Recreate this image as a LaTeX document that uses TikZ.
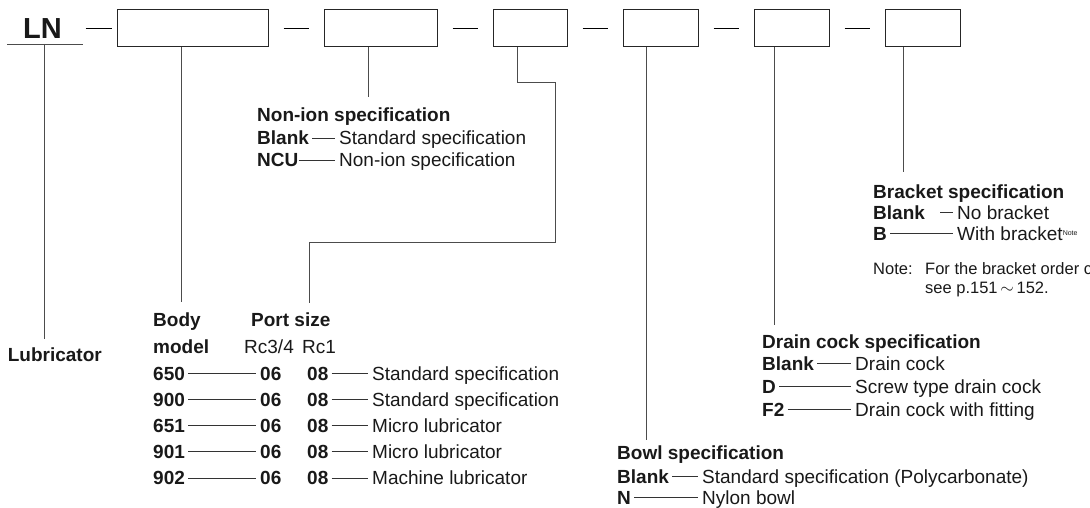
\documentclass[tikz,border=0pt]{standalone}
\usepackage{fontspec}
\setmainfont{Liberation Sans}

\begin{document}
\begin{tikzpicture}[x=1pt, y=-1pt,
  every node/.style={inner sep=0pt, anchor=base west, text height=13.6pt, text depth=0pt,
    text=black!90, font=\fontsize{19}{22}\selectfont},
  code/.style={font=\fontsize{19}{22}\selectfont\bfseries},
  notefont/.style={font=\fontsize{16.5}{20}\selectfont},
  slot/.style={draw=black!85, line width=1pt, anchor=center, minimum height=37pt},
  lead/.style={draw=black!70, line width=0.9pt},
  hyph/.style={draw=black, line width=1.8pt},
  link/.style={draw=black!80, line width=0.9pt, shorten <=3pt, shorten >=4pt}]
\useasboundingbox (0,0) rectangle (1090,508);

\node[code, font=\fontsize{29}{32}\selectfont\bfseries] (ln) at (23,38.5) {LN};
\node[slot, minimum width=150.5pt] (bodybox) at (192.75,28.5) {};
\node[slot, minimum width=113pt] (ionbox) at (380.5,28.5) {};
\node[slot, minimum width=74pt] (portbox) at (530,28.5) {};
\node[slot, minimum width=75pt] (bowlbox) at (660.5,28.5) {};
\node[slot, minimum width=75pt] (drainbox) at (791.5,28.5) {};
\node[slot, minimum width=75pt] (bracketbox) at (922.5,28.5) {};

\draw[hyph] ([xshift=-31.5pt]bodybox.west) -- ([xshift=-5.5pt]bodybox.west);
\foreach \a/\b in {bodybox/ionbox, ionbox/portbox, portbox/bowlbox, bowlbox/drainbox, drainbox/bracketbox}
  \draw[hyph] ([xshift=15pt]\a.east) -- ([xshift=-15pt]\b.west);

\coordinate (lubtip) at (44.5,339);
\coordinate (bodytip) at (181,302);
\coordinate (iontip) at (368,97);
\coordinate (porttip) at (309,303);
\coordinate (bowltip) at (646,440);
\coordinate (draintip) at (774,325);
\coordinate (brackettip) at (903,172);

\draw[lead] (7,44) -- (83,44);
\draw[lead] (lubtip |- 0,44) -- (lubtip);
\draw[lead] (bodytip |- bodybox.south) -- (bodytip);
\draw[lead] (iontip |- ionbox.south) -- (iontip);
\draw[lead] ([xshift=-12.5pt]portbox.south) |- (555,82) |- (porttip |- 0,242) -- (porttip);
\draw[lead] (bowltip |- bowlbox.south) -- (bowltip);
\draw[lead] (draintip |- drainbox.south) -- (draintip);
\draw[lead] (brackettip |- bracketbox.south) -- (brackettip);

\node[code] (lub) at (7.6,361) {Lubricator};

\node[code] (ionhead) at (257,122) {Non-ion specification};
\node[code] (ionblank) at (257,145) {Blank};
\node (ionstd) at (339,145) {Standard specification};
\node[code] (ionncu) at (257,167) {NCU};
\node (ionnon) at (339,167) {Non-ion specification};
\draw[link] (ionblank) -- (ionstd);
\draw[link, shorten <=0pt] (ionncu) -- (ionnon);

\node[code] (bodyhead) at (153,326.5) {Body};
\node[code] (modelhead) at (153,353.5) {model};
\node[code] (porthead) at (251,326.5) {Port size};
\node (rcsmall) at (244,353.5) {Rc3/4};
\node (rcbig) at (302,353.5) {Rc1};
\foreach \num/\desc [count=\i] in {650/Standard specification, 900/Standard specification,
    651/Micro lubricator, 901/Micro lubricator, 902/Machine lubricator} {
  \node[code] (num\i) at (153,{380+26.2*(\i-1)}) {\num};
  \node[code] (sml\i) at (260,{380+26.2*(\i-1)}) {06};
  \node[code] (big\i) at (307,{380+26.2*(\i-1)}) {08};
  \node (use\i) at (372,{380+26.2*(\i-1)}) {\desc};
  \draw[link] (num\i) -- (sml\i);
  \draw[link] (big\i) -- (use\i);
}

\node[code] (bowlhead) at (617,459) {Bowl specification};
\node[code] (bowlblank) at (617,483) {Blank};
\node (bowlstd) at (702,483) {Standard specification (Polycarbonate)};
\node[code] (bowln) at (617,504) {N};
\node (bowlnylon) at (702,504) {Nylon bowl};
\draw[link] (bowlblank) -- (bowlstd);
\draw[link] (bowln) -- (bowlnylon);

\node[code] (drainhead) at (762,348) {Drain cock specification};
\node[code] (drainblank) at (762,370) {Blank};
\node (draincock) at (855,370) {Drain cock};
\node[code] (draind) at (762,393) {D};
\node (drainscrew) at (855,393) {Screw type drain cock};
\node[code] (drainf) at (762,416) {F2};
\node (drainfit) at (855,416) {Drain cock with fitting};
\draw[link] (drainblank) -- (draincock);
\draw[link] (draind) -- (drainscrew);
\draw[link] (drainf) -- (drainfit);

\node[code] (brackethead) at (873,198) {Bracket specification};
\node[code] (bracketblank) at (873,219) {Blank};
\node (bracketno) at (957,219) {No bracket};
\node[code] (bracketb) at (873,240) {B};
\node (bracketwith) at (957,240) {With bracket\raisebox{5pt}{\fontsize{7}{8}\selectfont Note}};
\draw[link, shorten <=15pt] (bracketblank) -- (bracketno);
\draw[link] (bracketb) -- (bracketwith);

\node[notefont] (notehead) at (873,274) {Note:};
\node[notefont] (noteline) at (925,274) {For the bracket order code,};
\node[notefont] (notepage) at (925,293) {see p.151\,$\sim$\,152.};
\end{tikzpicture}
\end{document}
